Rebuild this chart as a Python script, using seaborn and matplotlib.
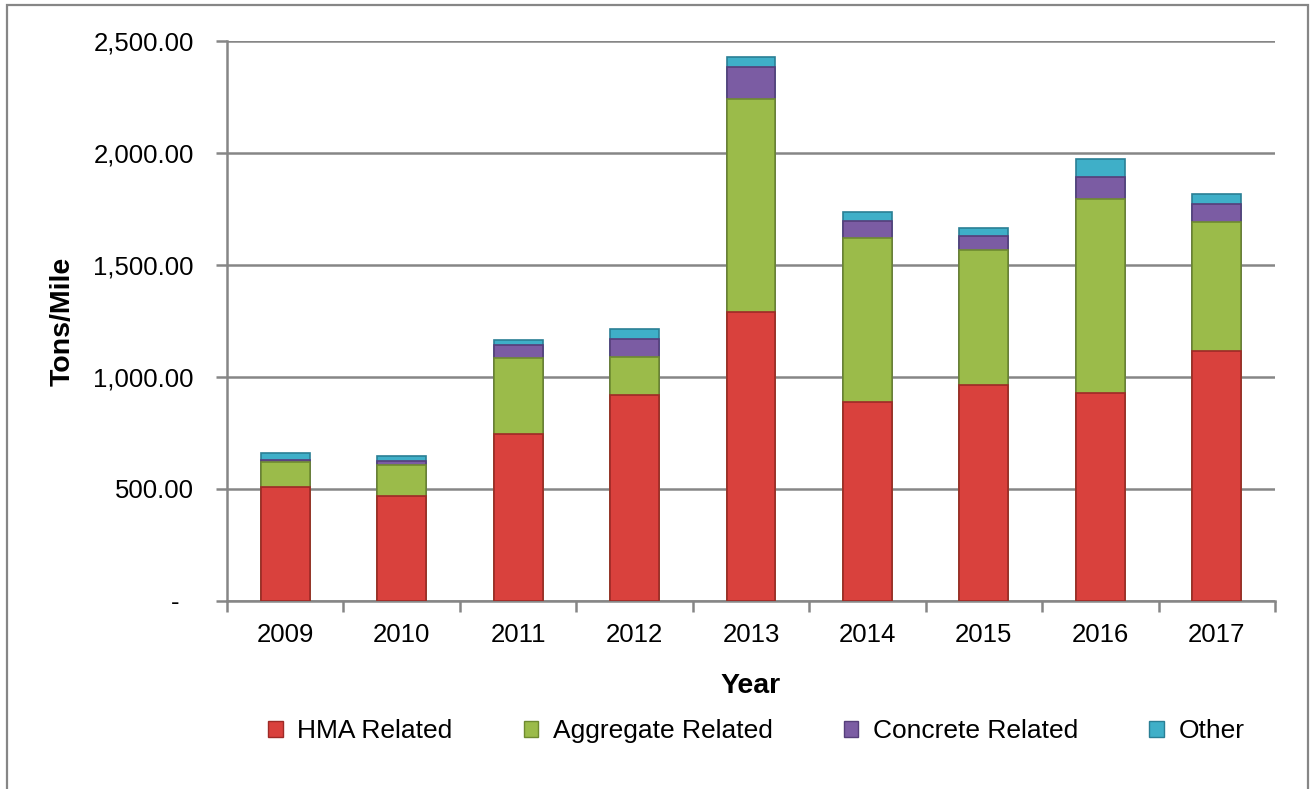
import matplotlib
matplotlib.use("Agg")
import matplotlib.pyplot as plt
import matplotlib.patches as mpatches
from matplotlib.ticker import FuncFormatter, FixedLocator
import seaborn as sns
import pandas as pd
import numpy as np

years = ["2009", "2010", "2011", "2012", "2013", "2014", "2015", "2016", "2017"]
hma = [509, 467, 745, 918, 1292, 888, 964, 930, 1115]
aggregate = [110, 139, 341, 173, 948, 732, 603, 865, 578]
concrete = [10, 20, 57, 77, 143, 76, 64, 99, 78]
other = [30, 20, 21, 45, 44, 39, 33, 78, 46]

series = ["HMA Related", "Aggregate Related", "Concrete Related", "Other"]
colors = ["#D9413D", "#9BBB4A", "#7B5CA3", "#3FAFC8"]
edges = ["#9E2A27", "#6E8A30", "#553E7A", "#2A7F95"]

df = pd.DataFrame({"Year": years, "HMA Related": hma, "Aggregate Related": aggregate,
                   "Concrete Related": concrete, "Other": other})

sns.set_style("white")
plt.rcParams["font.family"] = ["Liberation Sans", "DejaVu Sans"]
plt.rcParams["text.color"] = "black"
plt.rcParams["axes.labelcolor"] = "black"
plt.rcParams["xtick.labelcolor"] = "black"
plt.rcParams["ytick.labelcolor"] = "black"

fig = plt.figure(figsize=(13.1, 7.89), dpi=100)
ax = fig.add_axes([227 / 1310, 1 - 601 / 789, 1048 / 1310, 560 / 789])

# stacked bars: draw cumulative totals from the top layer down
cum = df[series].cumsum(axis=1)
for i in range(len(series) - 1, -1, -1):
    sns.barplot(x=df["Year"], y=cum[series[i]], color=colors[i], width=0.42,
                edgecolor=edges[i], linewidth=1.2, saturation=1, ax=ax, zorder=3)

ax.set_ylim(0, 2500)
ax.set_xlim(-0.5, len(years) - 0.5)
ax.set_yticks([0, 500, 1000, 1500, 2000, 2500])
ax.yaxis.set_major_formatter(FuncFormatter(lambda v, p: f"{v:,.2f}" if v > 0 else "-  "))
ax.grid(axis="y", color="#868686", linewidth=1.8, zorder=0)
ax.set_axisbelow(True)

for s in ["top", "right"]:
    ax.spines[s].set_visible(False)
for s in ["left", "bottom"]:
    ax.spines[s].set_color("#868686")
    ax.spines[s].set_linewidth(1.8)

ax.tick_params(axis="y", which="major", length=8, width=1.8, color="#868686",
               pad=16, labelsize=18.5, left=True)
ax.tick_params(axis="x", which="major", length=0, pad=16, labelsize=18.5)
ax.xaxis.set_minor_locator(FixedLocator(np.arange(-0.5, len(years), 1)))
ax.tick_params(axis="x", which="minor", length=8, width=1.8, color="#868686", bottom=True)

ax.set_xlabel("Year", fontsize=20.5, fontweight="bold")
ax.set_ylabel("Tons/Mile", fontsize=20.5, fontweight="bold")
ax.xaxis.set_label_coords(0.5, -0.152)
ax.xaxis.label.set_va("center")
ax.yaxis.set_label_coords(-0.1565, 0.5)
ax.yaxis.label.set_va("center")

handles = [mpatches.Patch(facecolor=c, edgecolor=e, label=s) for s, c, e in zip(series, colors, edges)]
ax.legend(handles=handles, loc="center", bbox_to_anchor=(0.505, -0.232), ncol=4,
          frameon=False, fontsize=19, handlelength=0.55, handleheight=0.55,
          handletextpad=0.55, columnspacing=2.7)

# chart border
fig.patches.append(mpatches.Rectangle((7 / 1310, -0.05), 1301 / 1310, 1 - 5 / 789 + 0.05,
                                      transform=fig.transFigure, fill=False,
                                      edgecolor="#868686", linewidth=1.6))

fig.savefig("out.png", dpi=100)
